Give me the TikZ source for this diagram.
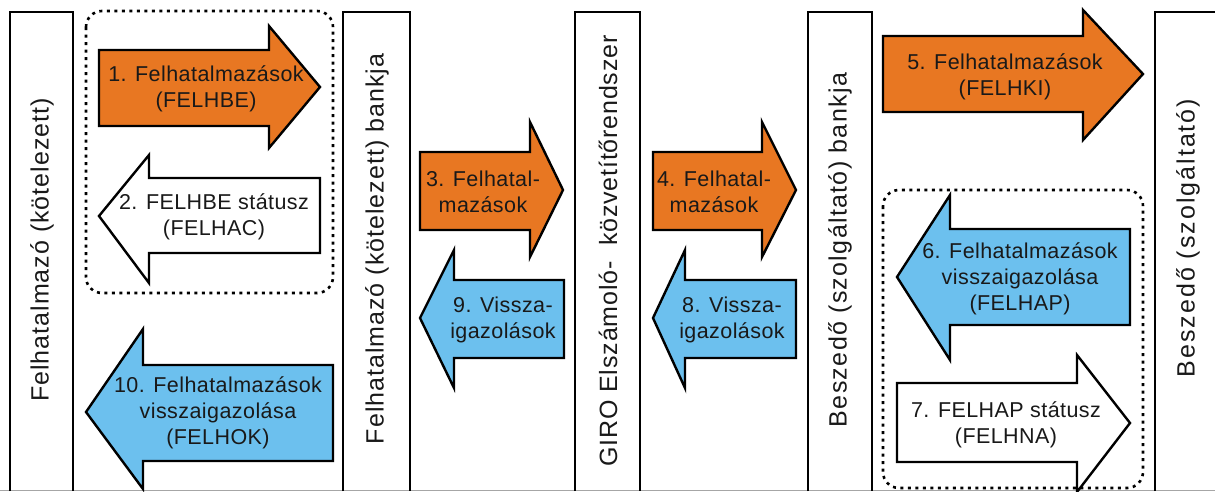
\documentclass[tikz,border=0pt]{standalone}
\usepackage{fontspec}
\setmainfont{Liberation Sans}
\definecolor{orangefill}{RGB}{232,119,34}
\definecolor{bluefill}{RGB}{108,192,238}
\definecolor{txt}{RGB}{25,25,25}
\tikzset{
  bar/.style={line width=2.6pt, draw=black},
  arr/.style={line width=2.4pt, draw=black, line join=miter},
  orangearr/.style={arr, fill=orangefill},
  bluearr/.style={arr, fill=bluefill},
  whitearr/.style={arr, fill=white},
  grp/.style={line width=2.6pt, draw=black, dash pattern=on 3pt off 4.5pt, rounded corners=16pt},
  collabel/.style={rotate=90, font=\fontsize{25}{30}\selectfont, text=txt, inner sep=0pt},
  arrlabel/.style={align=center, font=\fontsize{21.5}{26}\selectfont\addfontfeature{LetterSpace=2}, text=txt, inner sep=0pt}
}
\begin{document}
\begin{tikzpicture}[x=1pt,y=-1pt]
\useasboundingbox (0,0) rectangle (1215,491);
\fill[white] (0,0) rectangle (1215,491);
% bottom grey line
\draw[gray!70, line width=1pt] (0,490) -- (1215,490);
% bars
\draw[bar] (10,491) -- (10,12) -- (73,12) -- (73,491);
\draw[bar] (343,491) -- (343,12) -- (410,12) -- (410,491);
\draw[bar] (575,491) -- (575,12) -- (640,12) -- (640,491);
\draw[bar] (808,491) -- (808,12) -- (872,12) -- (872,491);
\draw[bar] (1155,491) -- (1155,12) -- (1216,12);
% bar labels
\node[collabel] (c1) at (42,250) {\addfontfeature{LetterSpace=4}Felhatalmazó (kötelezett)};
\node[collabel] (c2) at (377,249) {\addfontfeature{LetterSpace=4}Felhatalmazó (kötelezett) bankja};
\node[collabel] (c3) at (608,251) {\addfontfeature{LetterSpace=3.3}GIRO Elszámoló-\ \ közvetítőrendszer};
\node[collabel] (c4) at (840,250) {\addfontfeature{LetterSpace=5.3}Beszedő (szolgáltató) bankja};
\node[collabel] (c5) at (1188,238) {\addfontfeature{LetterSpace=8}Beszedő (szolgáltató)};
% dotted groups
\draw[grp] (86,11) rectangle (333,293);
\draw[grp] (883,190) rectangle (1143,488);
% arrow 1 (right, orange)
\draw[orangearr] (99,50) -- (269,50) -- (269,26) -- (320,87) -- (269,148) -- (269,126) -- (99,126) -- cycle;
% arrow 2 (left, white)
\draw[whitearr] (320,178) -- (149,178) -- (149,155) -- (99,216) -- (149,283) -- (149,253) -- (320,253) -- cycle;
% arrow 10 (left, blue)
\draw[bluearr] (333,365) -- (143,365) -- (143,329) -- (86,412) -- (143,489) -- (143,461) -- (333,461) -- cycle;
% arrow 3 (right, orange)
\draw[orangearr] (420,152) -- (530,152) -- (530,122) -- (563,190) -- (530,257) -- (530,230) -- (420,230) -- cycle;
% arrow 4 (right, orange)
\draw[orangearr] (653,152) -- (762,152) -- (762,122) -- (796,190) -- (762,257) -- (762,230) -- (653,230) -- cycle;
% arrow 9 (left, blue)
\draw[bluearr] (564,280) -- (454,280) -- (454,250) -- (420,318) -- (454,388) -- (454,358) -- (564,358) -- cycle;
% arrow 8 (left, blue)
\draw[bluearr] (796,280) -- (685,280) -- (685,250) -- (653,318) -- (685,388) -- (685,358) -- (796,358) -- cycle;
% arrow 5 (right, orange)
\draw[orangearr] (883,36) -- (1083,36) -- (1083,10) -- (1143,74) -- (1083,140) -- (1083,112) -- (883,112) -- cycle;
% arrow 6 (left, blue)
\draw[bluearr] (1130,229) -- (950,229) -- (950,195) -- (897,277) -- (950,360) -- (950,325) -- (1130,325) -- cycle;
% arrow 7 (right, white)
\draw[whitearr] (897,383) -- (1077,383) -- (1077,355) -- (1130,423) -- (1077,492) -- (1077,462) -- (897,462) -- cycle;
% arrow labels
\node[arrlabel] (t1) at (206,89) {1. Felhatalmazások\\(FELHBE)};
\node[arrlabel] (t2) at (214,217) {2. FELHBE státusz\\(FELHAC)};
\node[arrlabel] (t10) at (218,413) {10. Felhatalmazások\\visszaigazolása\\(FELHOK)};
\node[arrlabel] (t3) at (483,192) {3. Felhatal-\\mazások};
\node[arrlabel] (t9) at (503,320) {9. Vissza-\\igazolások};
\node[arrlabel] (t4) at (714,192) {4. Felhatal-\\mazások};
\node[arrlabel] (t8) at (732,320) {8. Vissza-\\igazolások};
\node[arrlabel] (t5) at (1005,77) {5. Felhatalmazások\\(FELHKI)};
\node[arrlabel] (t6) at (1020,279) {6. Felhatalmazások\\visszaigazolása\\(FELHAP)};
\node[arrlabel] (t7) at (1006,425) {7. FELHAP státusz\\(FELHNA)};
\end{tikzpicture}
\end{document}
